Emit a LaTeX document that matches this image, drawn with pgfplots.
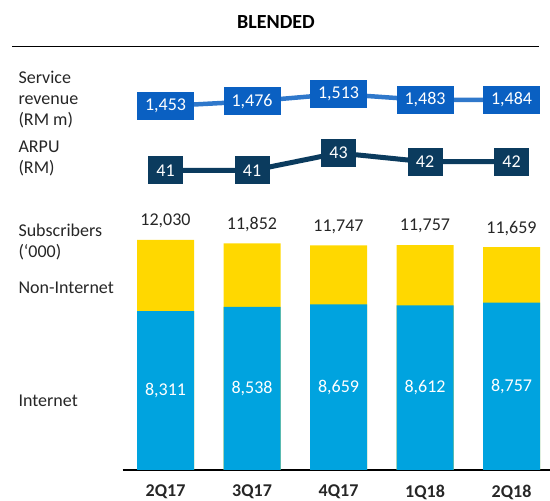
\documentclass[border=0pt]{standalone}
\usepackage{fontspec}
\setmainfont{Carlito}
\usepackage{pgfplots}
\usepackage{pgfplotstable}
\pgfplotsset{compat=1.18}

\definecolor{srvblue}{HTML}{0A60C2}
\definecolor{navy}{HTML}{0B3B5E}
\definecolor{inetblue}{HTML}{00A3DF}
\definecolor{nonyellow}{HTML}{FFD800}
\definecolor{txt}{HTML}{262626}
\definecolor{baseline}{HTML}{8C8C8C}

% quarterly blended figures
\pgfplotstableread{
x q total internet revenue arpu
0 2Q17 12030 8311 1453 41
1 3Q17 11852 8538 1476 41
2 4Q17 11747 8659 1513 43
3 1Q18 11757 8612 1483 42
4 2Q18 11659 8757 1484 42
}\blended

\begin{document}
\begin{tikzpicture}[font=\fontsize{18}{21}\selectfont, text=txt]
\useasboundingbox (0pt,0pt) rectangle (550pt,501pt);
\pgfplotsset{
  every axis/.append style={
    scale only axis, width=427.3pt,
    xmin=-0.495, xmax=4.445,
    clip=false, anchor=south west,
    /pgf/number format/assume math mode=true,
    /pgf/number format/1000 sep={,},
  },
}

% title
\node[font=\bfseries\fontsize{20}{24}\selectfont, text=black] at (276pt,479pt) {BLENDED};
\draw[line width=1.2pt] (12pt,454.3pt) -- (539pt,454.3pt);

% row labels
\node[anchor=west, align=left] at (15pt,401pt) {Service\\revenue\\(RM m)};
\node[anchor=west, align=left] at (15pt,342.5pt) {ARPU\\(RM)};
\node[anchor=west, align=left] at (15pt,259pt) {Subscribers\\(‘000)};
\node[anchor=west] at (15pt,213pt) {Non-Internet};
\node[anchor=west] at (15pt,100pt) {Internet};

% subscribers
\begin{axis}[
  at={(122.7pt,31pt)}, height=270pt,
  ymin=0, ymax=14122,
  axis x line=bottom, axis y line=none,
  x axis line style={-, baseline, line width=1.3pt},
  xtick={0,...,4},
  xticklabels from table={\blended}{q},
  major tick length=0pt,
  xticklabel style={font=\bfseries\fontsize{18}{21}\selectfont, text=txt, anchor=center, yshift=-22pt},
  ytick=\empty,
]
\addplot[ybar, bar width=57pt, bar shift=0pt, fill=nonyellow, draw=none,
  nodes near coords,
  nodes near coords style={anchor=center, yshift=19pt, text=txt}]
  table[x=x, y=total] {\blended};
\addplot[ybar, bar width=57pt, bar shift=0pt, fill=inetblue, draw=none,
  visualization depends on={y \as \inet},
  nodes near coords,
  nodes near coords style={anchor=center, text=white, yshift={-0.00956*\inet}}]
  table[x=x, y=internet] {\blended};
\end{axis}

% service revenue
\begin{axis}[
  at={(122.7pt,384.4pt)}, height=40pt,
  ymin=1400, ymax=1600, hide axis,
]
\addplot[srvblue!85!white, line width=4.5pt, mark=none,
  nodes near coords,
  nodes near coords style={anchor=center, fill=srvblue, text=white,
    minimum width=57pt, minimum height=28pt, inner sep=0pt}]
  table[x=x, y=revenue] {\blended};
\end{axis}

% ARPU
\begin{axis}[
  at={(122.7pt,321.75pt)}, height=35pt,
  ymin=40, ymax=44, hide axis,
]
\addplot[navy, line width=5pt, mark=none,
  nodes near coords,
  nodes near coords style={anchor=center, fill=navy, text=white,
    minimum width=35pt, minimum height=28pt, inner sep=0pt}]
  table[x=x, y=arpu] {\blended};
\end{axis}
\end{tikzpicture}
\end{document}
